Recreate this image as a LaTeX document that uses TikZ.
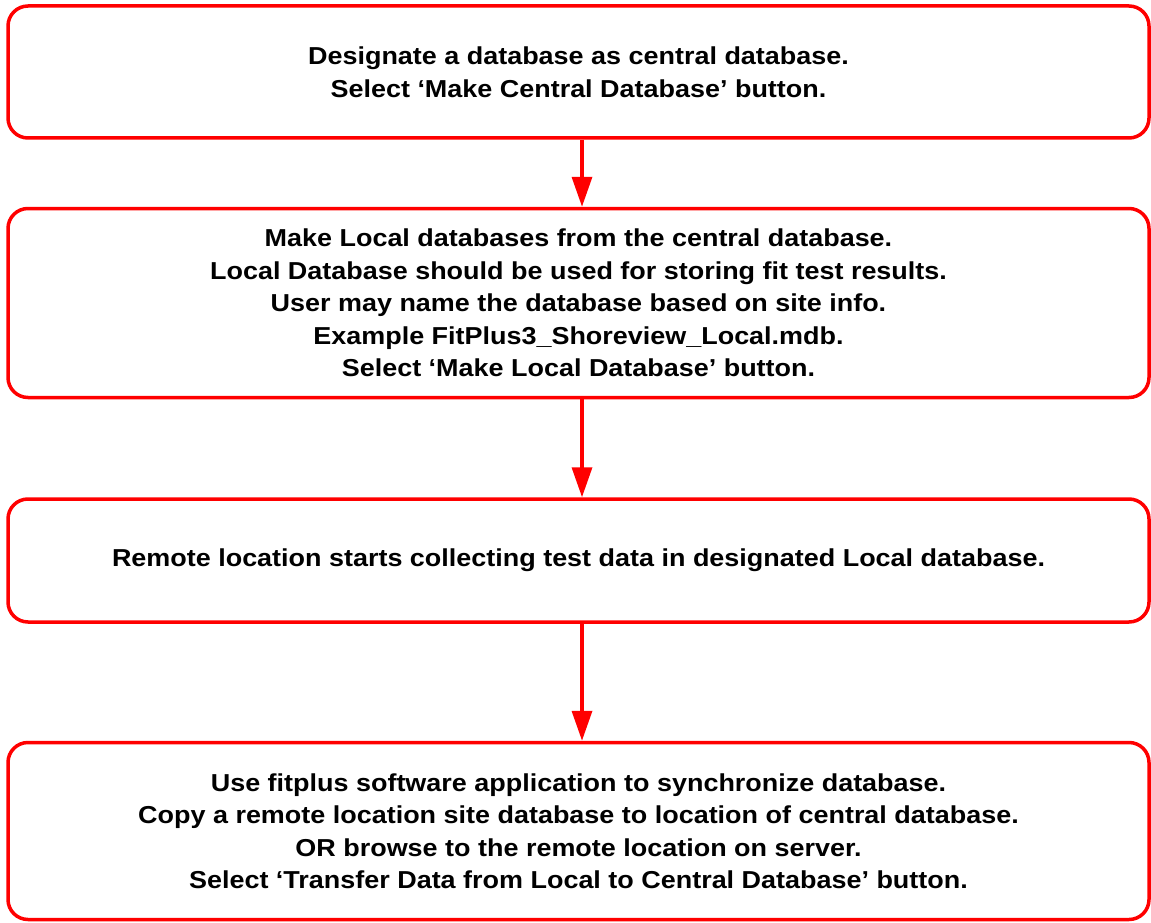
\documentclass[tikz,border=0pt]{standalone}
\usepackage{fontspec}
\setmainfont[FakeStretch=1.1]{Liberation Sans}
\usetikzlibrary{arrows.meta, positioning}

\begin{document}
\begin{tikzpicture}[
	x=1pt, y=1pt,
	stepbox/.style={draw=red, line width=3.5pt, rounded corners=20pt, fill=white, minimum width=1141pt, inner sep=0pt, align=center, font=\fontsize{24.5}{32.5}\selectfont\bfseries},
	arrow/.style={-{Triangle[length=30pt, width=20pt]}, draw=red, line width=3.5pt}
	]
	\useasboundingbox (0,0) rectangle (1151,-923);
	\node[stepbox, minimum height=132pt] (central) at (578.5,-72) {Designate a database as central database.\\Select ‘Make Central Database’ button.};
	\node[stepbox, minimum height=189pt, below=67pt of central] (local) {Make Local databases from the central database.\\Local Database should be used for storing fit test results.\\User may name the database based on site info.\\Example FitPlus3\_Shoreview\_Local.mdb.\\Select ‘Make Local Database’ button.};
	\node[stepbox, minimum height=123pt, below=98pt of local] (remote) {Remote location starts collecting test data in designated Local database.};
	\node[stepbox, minimum height=177pt, below=117pt of remote] (sync) {Use fitplus software application to synchronize database.\\Copy a remote location site database to location of central database.\\OR browse to the remote location on server.\\Select ‘Transfer Data from Local to Central Database’ button.};

	\draw[arrow] ([xshift=3.5pt]central.south) -- ([xshift=3.5pt]local.north);
	\draw[arrow] ([xshift=3.5pt]local.south) -- ([xshift=3.5pt]remote.north);
	\draw[arrow] ([xshift=3.5pt]remote.south) -- ([xshift=3.5pt]sync.north);
\end{tikzpicture}
\end{document}
